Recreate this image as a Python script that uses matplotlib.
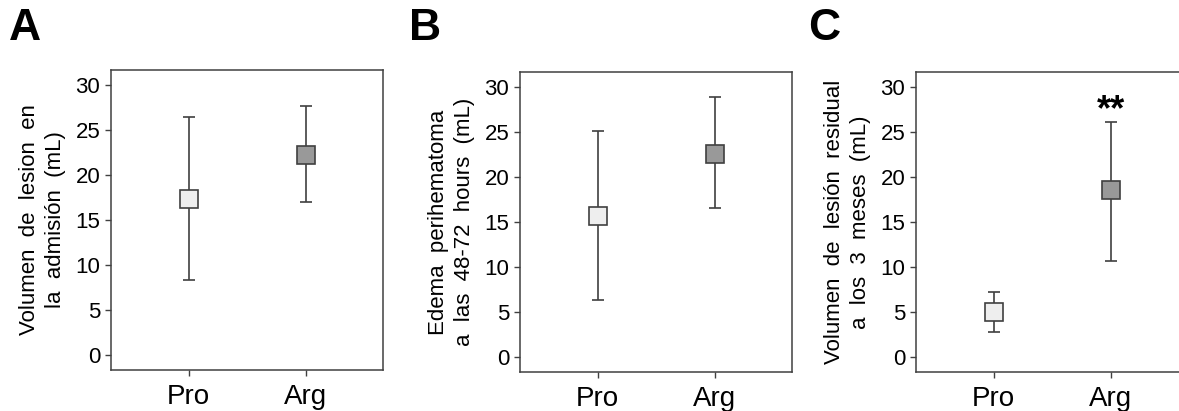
import matplotlib
matplotlib.use("Agg")
import matplotlib.pyplot as plt

plt.rcParams['font.family'] = ['Liberation Sans', 'DejaVu Sans']

groups = ["Pro", "Arg"]
yticks = [0, 5, 10, 15, 20, 25, 30]

a_mean = [17.3, 22.2]
a_low = [8.3, 17.0]
a_high = [26.4, 27.7]

b_mean = [15.7, 22.6]
b_low = [6.3, 16.6]
b_high = [25.1, 28.9]

c_mean = [5.0, 18.6]
c_low = [2.8, 10.7]
c_high = [7.2, 26.1]

panel_letters = ["A", "B", "C"]
ylabels = ["Volumen  de  lesion  en\nla  admisión  (mL)",
           "Edema  perihematoma\na  las  48-72  hours  (mL)",
           "Volumen  de  lesión  residual\na  los  3  meses  (mL)"]
c_annot = "**"

face_colors = ["#eeeeee", "#999999"]
edge = "#404040"

fig = plt.figure(figsize=(11.79, 4.11), dpi=100)
W, H = 1179, 411
boxes = [(111, 70, 272, 300), (520, 72, 272, 300), (916, 72, 272, 300)]
datasets = [(a_mean, a_low, a_high), (b_mean, b_low, b_high), (c_mean, c_low, c_high)]
letter_x = [9, 409, 808]

for i, ((x0, y0, w, h), (m, lo, hi)) in enumerate(zip(boxes, datasets)):
    ax = fig.add_axes([x0 / W, (H - y0 - h) / H, w / W, h / H])
    xs = list(range(len(groups)))
    for j, x in enumerate(xs):
        ax.errorbar([x], [m[j]], yerr=[[m[j] - lo[j]], [hi[j] - m[j]]],
                    fmt='none', ecolor=edge, elinewidth=1.2, capsize=4.2, capthick=1.2, zorder=2)
        ax.plot([x], [m[j]], marker='s', markersize=12.5, markerfacecolor=face_colors[j],
                markeredgecolor=edge, markeredgewidth=1.2, linestyle='none', zorder=3)
    ax.set_xlim(-0.665, 1.66)
    ax.set_ylim(-1.67, 31.67)
    ax.set_yticks(yticks)
    ax.set_xticks(xs)
    ax.set_xticklabels(groups, fontsize=20)
    ax.tick_params(axis='y', labelsize=16, length=4.3, width=1, color=edge, pad=3.5)
    ax.tick_params(axis='x', length=4.3, width=1, color=edge, pad=6)
    for s in ax.spines.values():
        s.set_color(edge)
        s.set_linewidth(1.1)
    ax.set_ylabel(ylabels[i], fontsize=16, linespacing=1.3, labelpad=7)
    fig.text(letter_x[i] / W, 1 - 29 / H, panel_letters[i], fontsize=32, fontweight='bold',
             va='center', ha='left')
    if i == 2:
        ax.text(1, 27.4, c_annot, fontsize=26, fontweight='bold', ha='center', va='center')

fig.savefig("out.png", dpi=100)
